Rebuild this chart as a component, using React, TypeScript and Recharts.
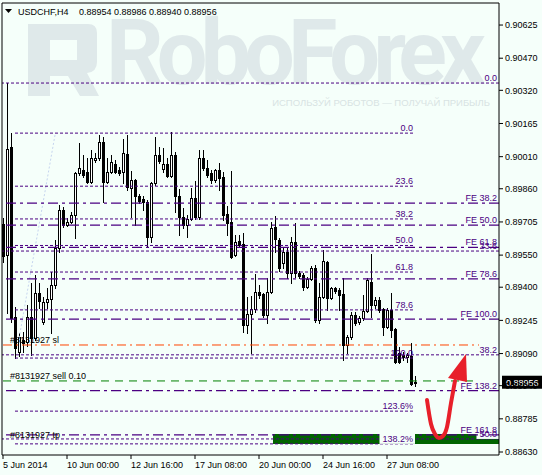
import React from 'react';
import { ComposedChart, Bar, Line, XAxis, YAxis, ReferenceLine, ReferenceArea } from 'recharts';

const FONT = '"Liberation Sans", Arial, sans-serif';
const INDIGO = '#4b0082';
const BG = '#f5fffa';
const RED = '#e8202a';

// ---- candles (USDCHF H4) ----
const opens = [
  0.89695, 0.8955, 0.90055, 0.89261, 0.89097, 0.89153, 0.89144, 0.89261, 0.89163, 0.89373,
  0.89237, 0.89331, 0.89345, 0.8941, 0.89583, 0.89761, 0.89691, 0.89705, 0.89737, 0.89934,
  0.89948, 0.89938, 0.89891, 0.89994, 0.90004, 0.90078, 0.89891, 0.89938, 0.89976, 0.89948,
  0.89938, 0.90022, 0.89863, 0.89901, 0.89826, 0.89812, 0.89798, 0.89635, 0.89887, 0.90018,
  0.89952, 0.89976, 0.8992, 0.90018, 0.89826, 0.89728, 0.89691, 0.89719, 0.89817, 0.89728,
  0.90004, 0.89957, 0.89934, 0.89901, 0.89948, 0.89915, 0.89742, 0.89705, 0.8955, 0.89616,
  0.89602, 0.89223, 0.89275, 0.89298, 0.89378, 0.89368, 0.8927, 0.89378, 0.89681, 0.89621,
  0.89513, 0.89564, 0.89466, 0.89611, 0.89466, 0.89457, 0.89401, 0.89438, 0.8949, 0.89247,
  0.89354, 0.89518, 0.8935, 0.89396, 0.89387, 0.89368, 0.8913, 0.89167, 0.8927, 0.89237,
  0.89256, 0.89289, 0.89424, 0.89317, 0.8934, 0.89298, 0.89214, 0.89293, 0.89205, 0.89093,
  0.89083, 0.89074, 0.89079, 0.88954,
];
const highs = [
  0.89723, 0.90354, 0.9012, 0.89308, 0.89186, 0.89191, 0.89317, 0.8942, 0.89457, 0.8942,
  0.89354, 0.89396, 0.89471, 0.89621, 0.89784, 0.89775, 0.89723, 0.89751, 0.89938, 0.90074,
  0.90018, 0.90004, 0.90041, 0.90027, 0.90111, 0.90102, 0.90004, 0.90018, 0.89994, 0.89962,
  0.90092, 0.90111, 0.89943, 0.89905, 0.89835, 0.89826, 0.89807, 0.89891, 0.90102, 0.90055,
  0.9005, 0.90004, 0.90125, 0.90032, 0.89859, 0.8977, 0.89737, 0.89863, 0.89896, 0.90041,
  0.90041, 0.89994, 0.89948, 0.89952, 0.8998, 0.89938, 0.89779, 0.89943, 0.89644, 0.89644,
  0.89653, 0.89354, 0.89359, 0.89462, 0.8941, 0.89373, 0.89443, 0.89705, 0.89733, 0.8963,
  0.89588, 0.89588, 0.89635, 0.897, 0.89476, 0.89466, 0.89448, 0.89499, 0.89504, 0.8942,
  0.89574, 0.89522, 0.89401, 0.89401, 0.89396, 0.89443, 0.89177, 0.89284, 0.89284, 0.89265,
  0.89364, 0.89443, 0.89555, 0.89354, 0.89354, 0.89303, 0.89303, 0.89373, 0.89209, 0.89121,
  0.89097, 0.89093, 0.89139, 0.88986,
];
const lows = [
  0.89518, 0.89279, 0.89237, 0.89069, 0.89079, 0.89097, 0.89125, 0.89083, 0.89153, 0.89303,
  0.89228, 0.89303, 0.89186, 0.89396, 0.89564, 0.89681, 0.89686, 0.897, 0.8963, 0.89924,
  0.89915, 0.89887, 0.89887, 0.89985, 0.89994, 0.89798, 0.89887, 0.89934, 0.89934, 0.89924,
  0.89887, 0.89854, 0.89728, 0.89691, 0.89793, 0.89761, 0.89588, 0.89611, 0.89877, 0.8998,
  0.89938, 0.89915, 0.89915, 0.89751, 0.89644, 0.89677, 0.89635, 0.89714, 0.89719, 0.89719,
  0.89948, 0.89915, 0.89887, 0.89891, 0.89854, 0.89714, 0.89644, 0.89536, 0.89546, 0.89592,
  0.89191, 0.89186, 0.89093, 0.89284, 0.8935, 0.89261, 0.89233, 0.89373, 0.89564, 0.89476,
  0.8949, 0.89443, 0.8942, 0.89448, 0.89443, 0.89387, 0.89396, 0.89434, 0.89237, 0.89233,
  0.8935, 0.89293, 0.89345, 0.89373, 0.89293, 0.8906, 0.89093, 0.89158, 0.89223, 0.89228,
  0.89247, 0.89284, 0.89261, 0.89303, 0.89284, 0.89177, 0.89209, 0.89167, 0.89046, 0.89046,
  0.8906, 0.89051, 0.88943, 0.8894,
];
const closes = [
  0.89546, 0.90046, 0.89256, 0.89116, 0.89167, 0.89139, 0.89261, 0.89163, 0.89373, 0.89336,
  0.89331, 0.89345, 0.8941, 0.89583, 0.89761, 0.89691, 0.89705, 0.89737, 0.89934, 0.89957,
  0.89924, 0.89891, 0.90004, 0.90004, 0.90078, 0.89891, 0.89938, 0.89985, 0.89938, 0.89934,
  0.90027, 0.89868, 0.89901, 0.89826, 0.89803, 0.89798, 0.89635, 0.89887, 0.90018, 0.8999,
  0.89976, 0.8992, 0.90018, 0.89826, 0.89728, 0.89691, 0.89719, 0.89817, 0.89728, 0.90004,
  0.89957, 0.89924, 0.89901, 0.89948, 0.8991, 0.89737, 0.897, 0.89541, 0.89611, 0.89597,
  0.89223, 0.89275, 0.89298, 0.89378, 0.89364, 0.8927, 0.89378, 0.89677, 0.89625, 0.8949,
  0.89564, 0.89466, 0.89611, 0.89466, 0.89452, 0.89401, 0.89438, 0.8949, 0.89247, 0.89354,
  0.89522, 0.8935, 0.89396, 0.89382, 0.89364, 0.8913, 0.89167, 0.8927, 0.89233, 0.89256,
  0.89289, 0.89434, 0.89317, 0.8934, 0.89293, 0.89214, 0.89293, 0.892, 0.89051, 0.89051,
  0.89074, 0.89083, 0.88948, 0.88956,
];

const SLOTS = 125; // bar slots visible on the chart (incl. empty future space)

// ---- axes ----
const tickIdx = [0, 16, 32, 48, 64, 80, 96];
const tickLabels = ['5 Jun 2014', '10 Jun 00:00', '12 Jun 16:00', '17 Jun 08:00', '20 Jun 00:00', '24 Jun 16:00', '27 Jun 08:00'];
const priceTicks = [0.8863, 0.88785, 0.8894, 0.8909, 0.89245, 0.894, 0.8955, 0.89705, 0.8986, 0.9001, 0.90165, 0.9032, 0.9047, 0.90625];
const DOMAIN: [number, number] = [0.88616, 0.90728];

// ---- Fibonacci retracement (left) ----
const fibLevels = ['0.0', '23.6', '38.2', '50.0', '61.8', '78.6', '100.0', '123.6%', '138.2%'];
const fibPrices = [0.9012, 0.89872, 0.89719, 0.89595, 0.89471, 0.89294, 0.89069, 0.88821, 0.88668];
const fibFrom = 3;
const fibTo = 103;

// ---- Fibonacci retracement (long) ----
const fib2Levels = ['0.0', '23.6', '38.2', '50.0'];
const fib2Prices = [0.90354, 0.89569, 0.89084, 0.88691];

// ---- Fibonacci expansion ----
const feLevels = ['FE 38.2', 'FE 50.0', 'FE 61.8', 'FE 78.6', 'FE 100.0', 'FE 138.2', 'FE 161.8'];
const fePrices = [0.89793, 0.8969, 0.89586, 0.89439, 0.89251, 0.88917, 0.8871];

// ---- order lines ----
const orderNames = ['#8131927 sl', '#8131927 sell 0.10', '#8131927 tp'];
const orderPrices = [0.8913, 0.88962, 0.88684];
const orderColors = ['#ff4500', '#008000', 'none'];
const orderDash = ['9 4 2 4', '8 6', '0'];
const orderFrom = 0;
const orderTo = 119;

// ---- target zone & arrow ----
const zoneFrom = 68;
const zoneTo = 124;
const zonePrices = [0.88667, 0.88714];
const arrowIdx = [106, 107, 108, 109, 110, 111, 112, 113];
const arrowPrices = [0.88873, 0.88761, 0.88714, 0.88696, 0.88705, 0.88747, 0.88859, 0.88962];
const trendFrom = { i: 13, p: 0.90111 };
const trendTo = { i: 4, p: 0.8916 };

const lastPrice = 0.88956;

const data = Array.from({ length: SLOTS }, (_, i) => {
  const row: any = { i };
  if (i < opens.length) {
    row.o = opens[i];
    row.h = highs[i];
    row.l = lows[i];
    row.c = closes[i];
    row.range = [lows[i], highs[i]];
  }
  const a = arrowIdx.indexOf(i);
  if (a >= 0) row.arrow = arrowPrices[a];
  return row;
});

const charW: Record<string, number> = { '.': 0.278, '%': 0.889, F: 0.611, E: 0.667, ' ': 0.278 };
const textW = (s: string) => s.split('').reduce((a, ch) => a + (charW[ch] ?? 0.556), 0) * 9;

const Candle = (props: any) => {
  const { x, y, width, height } = props;
  const d = props.payload || props;
  if (d == null || d.o == null || !isFinite(y) || !isFinite(height)) return null;
  const { o, h, l, c } = d;
  const cx = Math.round(x + width / 2);
  const yOf = (v: number) => (h === l ? y : y + ((h - v) / (h - l)) * height);
  const top = Math.round(y);
  const bot = Math.round(y + height);
  const bTop = Math.round(yOf(Math.max(o, c)));
  let bBot = Math.round(yOf(Math.min(o, c)));
  if (bBot - bTop < 1) bBot = bTop + 1;
  const up = c > o;
  return (
    <g shapeRendering="crispEdges">
      <rect x={cx} y={top} width={1} height={Math.max(1, bot - top + 1)} fill="#000" />
      <rect x={cx - 1} y={bTop} width={3} height={bBot - bTop + 1} fill="#000" />
      {up && bBot - bTop >= 2 && <rect x={cx} y={bTop + 1} width={1} height={bBot - bTop - 1} fill="#fff" />}
    </g>
  );
};

const LevelLabel = (props: any) => {
  const { viewBox, text, bg, color } = props;
  if (!viewBox) return null;
  const xEnd = viewBox.x + viewBox.width - 2;
  const y = viewBox.y - 2;
  const w = textW(text);
  return (
    <g>
      {bg && <rect x={xEnd - w - 3} y={y - 9} width={w + 5} height={11} fill={BG} />}
      <text x={xEnd} y={y} textAnchor="end" fontSize={9} fontFamily={FONT} fill={color || INDIGO}>
        {text}
      </text>
    </g>
  );
};

const OrderLabel = (props: any) => {
  const { viewBox, text } = props;
  if (!viewBox) return null;
  return (
    <text x={viewBox.x + 7} y={viewBox.y - 2} fontSize={9} fontFamily={FONT} fill="#000">
      {text}
    </text>
  );
};

const PriceTag = (props: any) => {
  const { viewBox } = props;
  if (!viewBox) return null;
  const x = viewBox.x + viewBox.width + 3;
  const y = viewBox.y;
  return (
    <g>
      <rect x={x} y={y - 6.5} width={40} height={13} fill="#000" />
      <text x={x + 4} y={y + 3.5} fontSize={9} fontFamily={FONT} fill="#fff">
        {lastPrice.toFixed(5)}
      </text>
    </g>
  );
};

const XTick = (props: any) => {
  const { x, y, payload } = props;
  const k = tickIdx.indexOf(payload.value);
  return (
    <text x={x} y={y} dy={7} textAnchor="start" fontSize={9} fontFamily={FONT} fill="#000">
      {tickLabels[k]}
    </text>
  );
};

const arrowDot = (p: any) => {
  if (p && p.payload && p.payload.i === arrowIdx[arrowIdx.length - 1] && isFinite(p.cx) && isFinite(p.cy)) {
    const { cx, cy } = p;
    return <polygon key="arrow-head" points={`${cx + 11},${cy - 27} ${cx - 7},${cy - 3} ${cx + 12},${cy + 1}`} fill={RED} />;
  }
  return <g key={'ad' + (p ? p.index : 0)} />;
};

export default function App() {
  return (
    <div style={{ position: 'absolute', left: 0, top: 0, width: 542, height: 475, background: BG, fontFamily: FONT, overflow: 'hidden' }}>
      <svg width={542} height={475} style={{ position: 'absolute', left: 0, top: 0 }}>
        <path
          d="M28,24 H88 Q97,24 97,33 V62 Q97,72 87,73 L99,96 H80 L68,76 H50 V96 H28 Z M50,40 H77 V60 H50 Z"
          fill="#dfe9ea"
          fillRule="evenodd"
        />
        <text x={106} y={84} fontSize={90} fontWeight={700} fontFamily="Roboto, sans-serif" letterSpacing={-7} fill="#dfe9ea">
          RoboForex
        </text>
        <text x={490} y={106} fontSize={9.5} fontFamily={FONT} textAnchor="end" fill="#d8e3e3">
          ИСПОЛЬЗУЙ РОБОТОВ — ПОЛУЧАЙ ПРИБЫЛЬ
        </text>
        <polygon points="5,9 12,9 8.5,13" fill="#000" />
        <text x={18} y={15} fontSize={9} fontFamily={FONT} fill="#000">
          USDCHF,H4
        </text>
        <text x={79} y={15} fontSize={9} fontFamily={FONT} fill="#000">
          {`${opens[opens.length - 1].toFixed(5)} ${highs[highs.length - 1].toFixed(5)} ${lows[lows.length - 1].toFixed(5)} ${closes[closes.length - 1].toFixed(5)}`}
        </text>
      </svg>
      <div style={{ position: 'absolute', left: 0, top: 0 }}>
        <ComposedChart width={542} height={475} data={data} margin={{ top: 2, right: 0, bottom: 0, left: 1 }} barCategoryGap={0} barGap={0}>
          <XAxis
            dataKey="i"
            type="category"
            ticks={tickIdx}
            interval={0}
            tick={<XTick />}
            tickSize={4}
            tickMargin={2}
            height={20}
            padding={{ left: -1, right: -2 }}
            axisLine={{ stroke: '#000' }}
            tickLine={{ stroke: '#000' }}
          />
          <XAxis xAxisId="top" dataKey="i" orientation="top" height={1} tick={false} tickLine={false} axisLine={{ stroke: '#000' }} padding={{ left: -1, right: -2 }} />
          <YAxis yAxisId="left" orientation="left" width={1} type="number" domain={DOMAIN} allowDataOverflow tick={false} tickLine={false} axisLine={{ stroke: '#000' }} />
          <YAxis
            orientation="right"
            width={43}
            type="number"
            domain={DOMAIN}
            allowDataOverflow
            ticks={priceTicks}
            interval={0}
            tickFormatter={(v: number) => v.toFixed(5)}
            tick={{ fill: '#000', fontSize: 9, fontFamily: FONT }}
            tickSize={4}
            tickMargin={2}
            axisLine={{ stroke: '#000' }}
            tickLine={{ stroke: '#000' }}
          />

          <ReferenceArea x1={zoneFrom} x2={zoneTo} y1={zonePrices[0]} y2={zonePrices[1]} fill="#006400" fillOpacity={1} stroke="none" ifOverflow="hidden" />

          <ReferenceLine
            segment={[{ x: trendFrom.i, y: trendFrom.p }, { x: trendTo.i, y: trendTo.p }]}
            stroke="#c6d5ef"
            strokeDasharray="2 2"
          />

          {fib2Prices.map((p, j) => (
            <ReferenceLine key={'f2' + j} y={p} stroke={INDIGO} strokeDasharray="3 2" label={<LevelLabel text={fib2Levels[j]} bg={fib2Levels[j] === '50.0'} />} />
          ))}
          {fePrices.map((p, j) => (
            <ReferenceLine key={'fe' + j} y={p} stroke={INDIGO} strokeWidth={1.4} strokeDasharray="10 4 3 4" label={<LevelLabel text={feLevels[j]} />} />
          ))}
          {fibPrices.map((p, j) => (
            <ReferenceLine
              key={'f1' + j}
              segment={[{ x: fibFrom, y: p }, { x: fibTo, y: p }]}
              stroke={INDIGO}
              strokeDasharray="3 2"
              label={<LevelLabel text={fibLevels[j]} bg={fibLevels[j] === '138.2%'} />}
            />
          ))}
          {orderPrices.map((p, j) => (
            <ReferenceLine
              key={'o' + j}
              segment={[{ x: orderFrom, y: p }, { x: orderTo, y: p }]}
              stroke={orderColors[j]}
              strokeDasharray={orderDash[j]}
              label={<OrderLabel text={orderNames[j]} />}
            />
          ))}

          <Bar dataKey="range" shape={(p: any) => <Candle {...p} />} isAnimationActive={false} />

          <Line
            dataKey="arrow"
            type="monotone"
            stroke={RED}
            strokeWidth={4}
            strokeLinecap="round"
            dot={arrowDot}
            activeDot={false}
            isAnimationActive={false}
          />

          <ReferenceLine y={lastPrice} stroke="none" label={<PriceTag />} />
        </ComposedChart>
      </div>
    </div>
  );
}
